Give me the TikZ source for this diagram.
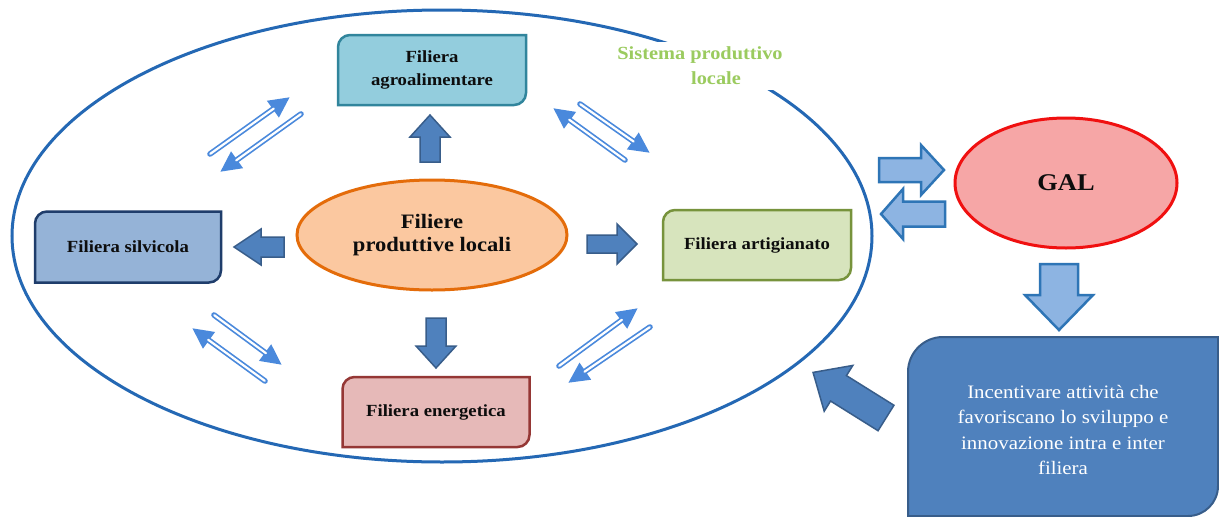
\documentclass[tikz,border=0pt]{standalone}
\usepackage{fontspec}
\setmainfont{Liberation Serif}[FakeStretch=1.1]
\usetikzlibrary{shapes.geometric,arrows.meta}
\definecolor{ellblue}{HTML}{2468B4}
\definecolor{agrofill}{HTML}{93CDDD}
\definecolor{agrodraw}{HTML}{31859C}
\definecolor{silvfill}{HTML}{95B3D7}
\definecolor{silvdraw}{HTML}{1F3D6B}
\definecolor{artfill}{HTML}{D7E4BD}
\definecolor{artdraw}{HTML}{77933C}
\definecolor{enefill}{HTML}{E6B9B8}
\definecolor{enedraw}{HTML}{953735}
\definecolor{cenfill}{HTML}{FBC8A0}
\definecolor{cendraw}{HTML}{E46C0A}
\definecolor{galfill}{HTML}{F6A6A6}
\definecolor{galdraw}{HTML}{F01010}
\definecolor{arrfill}{HTML}{4F81BD}
\definecolor{arrdraw}{HTML}{385D8A}
\definecolor{lfill}{HTML}{8DB4E2}
\definecolor{ldraw}{HTML}{2E75B6}
\definecolor{dblue}{HTML}{4A89DC}
\definecolor{sysgreen}{HTML}{9BCB5F}
% round diagonal corner rectangle: style, cx, cy, w, h, r top-left, r bottom-right
\newcommand\rdbox[7]{%
\filldraw[#1] ({#2-#4/2},{#3+#5/2}) -- ({#2-#4/2},{#3-#5/2+#6})
 .. controls ({#2-#4/2},{#3-#5/2+0.448*#6}) and ({#2-#4/2+0.448*#6},{#3-#5/2}) .. ({#2-#4/2+#6},{#3-#5/2})
 -- ({#2+#4/2},{#3-#5/2}) -- ({#2+#4/2},{#3+#5/2-#7})
 .. controls ({#2+#4/2},{#3+#5/2-0.448*#7}) and ({#2+#4/2-0.448*#7},{#3+#5/2}) .. ({#2+#4/2-#7},{#3+#5/2})
 -- cycle;}
% block arrow: style, tail centre, angle, length, shaft half width, head half width, head length
\newcommand\barrow[7]{%
\filldraw[#1,shift={#2},rotate=#3] (0,{-#5}) -- ({#4-#7},{-#5}) -- ({#4-#7},{-#6}) -- (#4,0)
 -- ({#4-#7},#6) -- ({#4-#7},#5) -- (0,#5) -- cycle;}
% hollow double-line arrow between two named coordinates
\newcommand\dblarrow[2]{%
\draw[dblout] (#1) -- (#2);
\draw[dblin] (#1) -- (#2);}
\begin{document}
\begin{tikzpicture}[x=1pt,y=-1pt,
 boxtxt/.style={font=\bfseries\fontsize{17}{22.7}\selectfont, align=center, text=black!95, inner sep=0pt},
 darrow/.style={fill=arrfill, draw=arrdraw, line width=1.5pt, line join=miter},
 larrow/.style={fill=lfill, draw=ldraw, line width=2.5pt, line join=miter},
 dblout/.style={draw=dblue, line width=5.6pt, line cap=round, -{Triangle[length=21pt,width=19pt]}},
 dblin/.style={draw=white, line width=2.2pt, line cap=round, shorten >=20pt, shorten <=0.3pt}]
\useasboundingbox (0,0) rectangle (1219,517);
\fill[white] (0,0) rectangle (1219,517);

% system ellipse
\node[ellipse, draw=ellblue, line width=3pt, minimum width=860pt, minimum height=452pt, inner sep=0pt] (sistema) at (442,236) {};
\node[font=\bfseries\fontsize{18.5}{25}\selectfont, text=sysgreen, fill=white, align=center, inner xsep=1pt, inner ysep=5pt] (syslabel) at (700,66) {Sistema produttivo\\\hspace*{32pt}locale};

% boxes
\rdbox{fill=agrofill, draw=agrodraw, line width=2.5pt}{432}{70}{188}{70}{12}{12}
\node[boxtxt] (agro) at (432,70) {Filiera\\agroalimentare};
\rdbox{fill=silvfill, draw=silvdraw, line width=2.5pt}{128}{247}{186}{71}{12}{12}
\node[boxtxt] (silv) at (128,247) {Filiera silvicola};
\rdbox{fill=artfill, draw=artdraw, line width=2.5pt}{757}{245}{188}{70}{12}{12}
\node[boxtxt] (art) at (757,245) {Filiera artigianato};
\rdbox{fill=enefill, draw=enedraw, line width=2.5pt}{436}{412}{187}{70}{12}{12}
\node[boxtxt] (ene) at (436,412) {Filiera energetica};

% centre ellipse
\node[ellipse, fill=cenfill, draw=cendraw, line width=3pt, minimum width=270pt, minimum height=110pt, inner sep=0pt,
  font=\bfseries\fontsize{20.5}{22.7}\selectfont, align=center, text=black!95] (centre) at (432,235) {Filiere\\produttive locali};

% GAL
\node[ellipse, fill=galfill, draw=galdraw, line width=3pt, minimum width=222pt, minimum height=130pt, inner sep=0pt,
  font=\bfseries\fontsize{24}{28}\selectfont, text=black!95] (gal) at (1066,183) {GAL};

% bottom right box
\rdbox{fill=arrfill, draw=arrdraw, line width=2pt}{1063}{426.5}{310}{179}{35}{30}
\node[font=\fontsize{19}{25.5}\selectfont, align=center, text=white] (incent) at (1063,430)
 {Incentivare attività che\\favoriscano lo sviluppo e\\innovazione intra e inter\\filiera};

% block arrows from the centre
\barrow{darrow}{(430,162)}{90}{47}{10}{20}{22}
\barrow{darrow}{(284,247)}{180}{50}{10}{18}{27}
\barrow{darrow}{(587,244)}{0}{50}{9}{20}{20}
\barrow{darrow}{(436,318)}{270}{50}{10}{20}{22}

% GAL arrows
\barrow{larrow}{(879,170)}{0}{65}{12}{25}{23}
\barrow{larrow}{(945,214)}{180}{64}{12.5}{25}{22}
\barrow{larrow}{(1059,264)}{270}{66}{19}{34}{35}
\barrow{darrow}{(886,418)}{148}{86}{15}{27}{30}

% double exchange arrows
\coordinate (tlA1) at (210,154); \coordinate (tlA2) at (290,97);
\coordinate (tlB1) at (301,114); \coordinate (tlB2) at (220,172);
\coordinate (trA1) at (625,160); \coordinate (trA2) at (553,108);
\coordinate (trB1) at (580,104); \coordinate (trB2) at (650,153);
\coordinate (blA1) at (214,315); \coordinate (blA2) at (282,365);
\coordinate (blB1) at (265,381); \coordinate (blB2) at (192,328);
\coordinate (brA1) at (559,366); \coordinate (brA2) at (638,308);
\coordinate (brB1) at (650,327); \coordinate (brB2) at (568,383);
\dblarrow{tlA1}{tlA2}
\dblarrow{tlB1}{tlB2}
\dblarrow{trA1}{trA2}
\dblarrow{trB1}{trB2}
\dblarrow{blA1}{blA2}
\dblarrow{blB1}{blB2}
\dblarrow{brA1}{brA2}
\dblarrow{brB1}{brB2}
\end{tikzpicture}
\end{document}
